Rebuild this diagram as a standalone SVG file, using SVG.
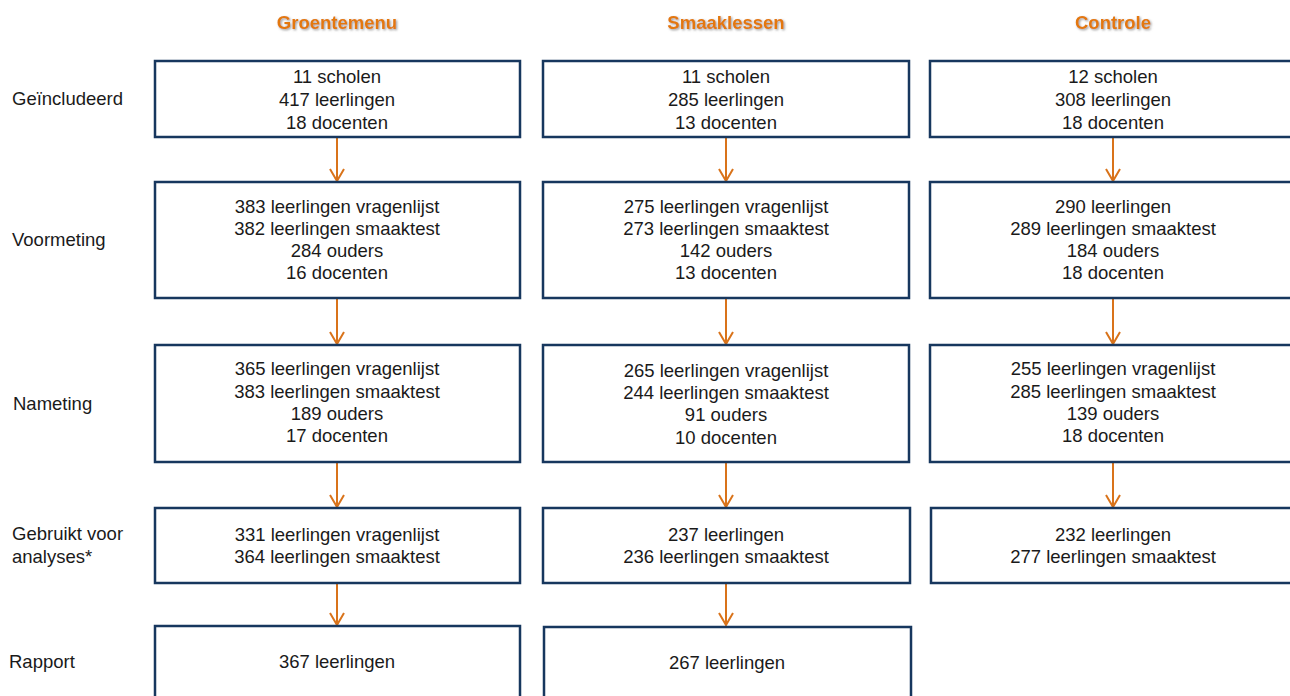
<svg xmlns="http://www.w3.org/2000/svg" width="1290" height="696" viewBox="0 0 1290 696">
<style>
.box{fill:#fff;stroke:#17375E;stroke-width:2.5}
.t{font-family:"Liberation Sans",Arial,sans-serif;font-size:18.5px;fill:#1a1a1a;text-anchor:middle}
.lbl{font-family:"Liberation Sans",Arial,sans-serif;font-size:18.5px;fill:#1a1a1a}
.hd{font-family:"Liberation Sans",Arial,sans-serif;font-size:18.5px;font-weight:bold;fill:#E3780F;text-anchor:middle;filter:url(#sh)}
.arr{stroke:#D9731A;stroke-width:2;fill:none}
</style>
<defs>
<filter id="sh" x="-10%" y="-30%" width="120%" height="160%">
<feDropShadow dx="1.2" dy="1.2" stdDeviation="0.8" flood-color="#808080" flood-opacity="0.8"/>
</filter>
<marker id="ah" viewBox="0 0 14 16" refX="13" refY="8" markerWidth="14" markerHeight="16" markerUnits="userSpaceOnUse" orient="auto">
<path d="M1,1 L13,8 L1,15" fill="none" stroke="#D9731A" stroke-width="2"/>
</marker>
</defs>
<rect width="1290" height="696" fill="#fff"/>
<g id="headers">
<text class="hd" x="337" y="29">Groentemenu</text>
<text class="hd" x="726" y="29">Smaaklessen</text>
<text class="hd" x="1113" y="29">Controle</text>
</g>
<g id="labels">
<text class="lbl" x="12" y="105">Geïncludeerd</text>
<text class="lbl" x="12" y="246">Voormeting</text>
<text class="lbl" x="13" y="410">Nameting</text>
<text class="lbl" x="12" y="540">Gebruikt voor</text>
<text class="lbl" x="12" y="563">analyses*</text>
<text class="lbl" x="9" y="668">Rapport</text>
</g>
<g id="connectors">
<line class="arr" x1="337" y1="137" x2="337" y2="181" marker-end="url(#ah)"/>
<line class="arr" x1="337" y1="298" x2="337" y2="344" marker-end="url(#ah)"/>
<line class="arr" x1="337" y1="462" x2="337" y2="507" marker-end="url(#ah)"/>
<line class="arr" x1="337" y1="583" x2="337" y2="625" marker-end="url(#ah)"/>
<line class="arr" x1="726" y1="137" x2="726" y2="181" marker-end="url(#ah)"/>
<line class="arr" x1="726" y1="298" x2="726" y2="344" marker-end="url(#ah)"/>
<line class="arr" x1="726" y1="462" x2="726" y2="507" marker-end="url(#ah)"/>
<line class="arr" x1="726" y1="583" x2="726" y2="625" marker-end="url(#ah)"/>
<line class="arr" x1="1113" y1="137" x2="1113" y2="181" marker-end="url(#ah)"/>
<line class="arr" x1="1113" y1="298" x2="1113" y2="344" marker-end="url(#ah)"/>
<line class="arr" x1="1113" y1="462" x2="1113" y2="507" marker-end="url(#ah)"/>
</g>
<g id="g1">
<rect class="box" x="155" y="61" width="365" height="76"/>
<text class="t" x="337" y="83">11 scholen</text>
<text class="t" x="337" y="106">417 leerlingen</text>
<text class="t" x="337" y="129">18 docenten</text>
</g>
<g id="g2">
<rect class="box" x="155" y="182" width="365" height="116"/>
<text class="t" x="337" y="213">383 leerlingen vragenlijst</text>
<text class="t" x="337" y="235">382 leerlingen smaaktest</text>
<text class="t" x="337" y="257">284 ouders</text>
<text class="t" x="337" y="279">16 docenten</text>
</g>
<g id="g3">
<rect class="box" x="155" y="345" width="365" height="117"/>
<text class="t" x="337" y="375">365 leerlingen vragenlijst</text>
<text class="t" x="337" y="398">383 leerlingen smaaktest</text>
<text class="t" x="337" y="420">189 ouders</text>
<text class="t" x="337" y="442">17 docenten</text>
</g>
<g id="g4">
<rect class="box" x="155" y="508" width="365" height="75"/>
<text class="t" x="337" y="541">331 leerlingen vragenlijst</text>
<text class="t" x="337" y="563">364 leerlingen smaaktest</text>
</g>
<g id="g5">
<rect class="box" x="155" y="626" width="365" height="80"/>
<text class="t" x="337" y="668">367 leerlingen</text>
</g>
<g id="s1">
<rect class="box" x="543" y="61" width="366" height="76"/>
<text class="t" x="726" y="83">11 scholen</text>
<text class="t" x="726" y="106">285 leerlingen</text>
<text class="t" x="726" y="129">13 docenten</text>
</g>
<g id="s2">
<rect class="box" x="543" y="182" width="366" height="116"/>
<text class="t" x="726" y="213">275 leerlingen vragenlijst</text>
<text class="t" x="726" y="235">273 leerlingen smaaktest</text>
<text class="t" x="726" y="257">142 ouders</text>
<text class="t" x="726" y="279">13 docenten</text>
</g>
<g id="s3">
<rect class="box" x="543" y="345" width="366" height="117"/>
<text class="t" x="726" y="377">265 leerlingen vragenlijst</text>
<text class="t" x="726" y="399">244 leerlingen smaaktest</text>
<text class="t" x="726" y="421">91 ouders</text>
<text class="t" x="726" y="444">10 docenten</text>
</g>
<g id="s4">
<rect class="box" x="543" y="508" width="367" height="75"/>
<text class="t" x="726" y="541">237 leerlingen</text>
<text class="t" x="726" y="563">236 leerlingen smaaktest</text>
</g>
<g id="s5">
<rect class="box" x="544" y="627" width="367" height="80"/>
<text class="t" x="727" y="669">267 leerlingen</text>
</g>
<g id="c1">
<rect class="box" x="930" y="61" width="366" height="76"/>
<text class="t" x="1113" y="83">12 scholen</text>
<text class="t" x="1113" y="106">308 leerlingen</text>
<text class="t" x="1113" y="129">18 docenten</text>
</g>
<g id="c2">
<rect class="box" x="930" y="182" width="366" height="116"/>
<text class="t" x="1113" y="213">290 leerlingen</text>
<text class="t" x="1113" y="235">289 leerlingen smaaktest</text>
<text class="t" x="1113" y="257">184 ouders</text>
<text class="t" x="1113" y="279">18 docenten</text>
</g>
<g id="c3">
<rect class="box" x="930" y="345" width="366" height="117"/>
<text class="t" x="1113" y="375">255 leerlingen vragenlijst</text>
<text class="t" x="1113" y="398">285 leerlingen smaaktest</text>
<text class="t" x="1113" y="420">139 ouders</text>
<text class="t" x="1113" y="442">18 docenten</text>
</g>
<g id="c4">
<rect class="box" x="931" y="508" width="366" height="75"/>
<text class="t" x="1113" y="541">232 leerlingen</text>
<text class="t" x="1113" y="563">277 leerlingen smaaktest</text>
</g>
</svg>
